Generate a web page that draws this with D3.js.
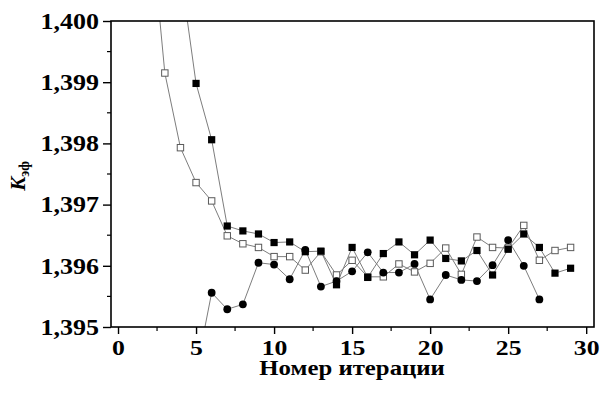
<!DOCTYPE html>
<html>
<head>
<meta charset="utf-8">
<script src="https://cdn.jsdelivr.net/npm/d3@7"></script>
<style>
  html, body { margin: 0; padding: 0; background: #fff; }
  svg { display: block; }
  text { font-family: "Liberation Serif", "Times New Roman", serif; font-weight: bold; fill: #000; }
</style>
</head>
<body>
<svg id="chart" width="612" height="394"></svg>
<script>
// Iteration numbers per series
const itersFilledSq = [4, 5, 6, 7, 8, 9, 10, 11, 12, 13, 14, 15, 16, 17, 18, 19, 20, 21, 22, 23, 24, 25, 26, 27, 28, 29];
const keffFilledSq  = [1.40082, 1.39898, 1.39806, 1.39665, 1.39657, 1.39652, 1.39638, 1.39639, 1.39623, 1.39624,
                       1.39569, 1.39630, 1.39581, 1.39620, 1.39639, 1.39618, 1.39642, 1.39612, 1.39608, 1.39625,
                       1.39585, 1.39627, 1.39652, 1.39630, 1.39588, 1.39596];

const itersOpenSq = [2, 3, 4, 5, 6, 7, 8, 9, 10, 11, 12, 13, 14, 15, 16, 17, 18, 19, 20, 21, 22, 23, 24, 25, 26, 27, 28, 29];
const keffOpenSq  = [1.40185, 1.39915, 1.39793, 1.39736, 1.39706, 1.39649, 1.39636, 1.39630, 1.39615, 1.39615,
                     1.39593, 1.39623, 1.39585, 1.39609, 1.39582, 1.39582, 1.39603, 1.39590, 1.39604, 1.39629,
                     1.39586, 1.39647, 1.39630, 1.39629, 1.39666, 1.39609, 1.39625, 1.39630];

const itersCircle = [5, 6, 7, 8, 9, 10, 11, 12, 13, 14, 15, 16, 17, 18, 19, 20, 21, 22, 23, 24, 25, 26, 27];
const keffCircle  = [1.39426, 1.39556, 1.39529, 1.39537, 1.39605, 1.39602, 1.39578, 1.39626, 1.39566, 1.39575,
                     1.39591, 1.39622, 1.39589, 1.39589, 1.39603, 1.39545, 1.39585, 1.39577, 1.39575, 1.39601,
                     1.39642, 1.39600, 1.39545];

const xTickValues = [0, 5, 10, 15, 20, 25, 30];
const yTickValues = [1.395, 1.396, 1.397, 1.398, 1.399, 1.400];
const xLabel = "Номер итерации";

const svg = d3.select("#chart");
const plotLeft = 111, plotRight = 594, plotTop = 21, plotBottom = 327;
const stretch = 1.13; // horizontal widening of the bold serif lettering

const x = d3.scaleLinear().domain([-0.45, 30.5]).range([plotLeft, plotRight]);
const y = d3.scaleLinear().domain([1.395, 1.400]).range([plotBottom, plotTop]);

const fmt = d => d3.format(".3f")(d).replace(".", ",");

// Clip region for the plotted series
svg.append("clipPath").attr("id", "plotClip")
  .append("rect").attr("x", plotLeft).attr("y", plotTop)
  .attr("width", plotRight - plotLeft).attr("height", plotBottom - plotTop);

const plot = svg.append("g").attr("clip-path", "url(#plotClip)");

const line = d3.line().x(d => x(d[0])).y(d => y(d[1]));
const zip = (a, b) => a.map((v, i) => [v, b[i]]);

const seriesOpen = zip(itersOpenSq, keffOpenSq);
const seriesFilled = zip(itersFilledSq, keffFilledSq);
const seriesCircle = zip(itersCircle, keffCircle);

[seriesOpen, seriesFilled, seriesCircle].forEach(s => {
  plot.append("path").datum(s).attr("d", line)
    .attr("fill", "none").attr("stroke", "#7d7d7d").attr("stroke-width", 1);
});

// Open squares
plot.selectAll(".osq").data(seriesOpen).join("rect")
  .attr("x", d => x(d[0]) - 3.2).attr("y", d => y(d[1]) - 3.2)
  .attr("width", 6.4).attr("height", 6.4)
  .attr("fill", "#fff").attr("stroke", "#5a5a5a").attr("stroke-width", 1);

// Filled squares
plot.selectAll(".fsq").data(seriesFilled).join("rect")
  .attr("x", d => x(d[0]) - 3.6).attr("y", d => y(d[1]) - 3.6)
  .attr("width", 7.2).attr("height", 7.2)
  .attr("fill", "#000");

// Filled circles
plot.selectAll(".fc").data(seriesCircle).join("circle")
  .attr("cx", d => x(d[0])).attr("cy", d => y(d[1])).attr("r", 3.9)
  .attr("fill", "#000");

// Frame
svg.append("rect").attr("x", plotLeft).attr("y", plotTop)
  .attr("width", plotRight - plotLeft).attr("height", plotBottom - plotTop)
  .attr("fill", "none").attr("stroke", "#000").attr("stroke-width", 1.6);

// Bottom axis
const xAxis = svg.append("g").attr("transform", `translate(0,${plotBottom})`);
xAxis.call(d3.axisBottom(x).tickValues(xTickValues).tickSize(7).tickPadding(5).tickFormat(d3.format("d")));
xAxis.select(".domain").remove();
xAxis.selectAll(".tick line").attr("stroke", "#000").attr("stroke-width", 1.4);
xAxis.selectAll(".tick text")
  .attr("font-size", 22).attr("font-family", "Liberation Serif").attr("font-weight", "bold")
  .attr("transform", `scale(${stretch + 0.04},1)`)
  .attr("x", 0);
const xMinor = d3.range(2.5, 30, 5);
xAxis.selectAll(".minor").data(xMinor).join("line")
  .attr("x1", d => x(d)).attr("x2", d => x(d)).attr("y1", 0).attr("y2", 4)
  .attr("stroke", "#000").attr("stroke-width", 1.2);

// Left axis
const yAxis = svg.append("g").attr("transform", `translate(${plotLeft},0)`);
yAxis.call(d3.axisLeft(y).tickValues(yTickValues).tickSize(8).tickPadding(4).tickFormat(fmt));
yAxis.select(".domain").remove();
yAxis.selectAll(".tick line").attr("stroke", "#000").attr("stroke-width", 1.4);
yAxis.selectAll(".tick text")
  .attr("font-size", 23).attr("font-family", "Liberation Serif").attr("font-weight", "bold")
  .attr("x", 0)
  .attr("transform", `translate(-12,0) scale(${stretch},1)`);
const yMinor = d3.range(1.3955, 1.4, 0.001);
yAxis.selectAll(".minor").data(yMinor).join("line")
  .attr("x1", -4).attr("x2", 0).attr("y1", d => y(d)).attr("y2", d => y(d))
  .attr("stroke", "#000").attr("stroke-width", 1.2);

// Axis titles
svg.append("text")
  .attr("transform", `translate(${(x(0) + x(30)) / 2},375) scale(1.24,1)`)
  .attr("text-anchor", "middle").attr("font-size", 20).text(xLabel);

const yt = svg.append("text").attr("transform", "translate(25,176) rotate(-90)")
  .attr("text-anchor", "middle").attr("font-size", 21);
yt.append("tspan").attr("font-style", "italic").text("K");
yt.append("tspan").attr("font-size", 14).attr("dy", 4).text("эф");
</script>
</body>
</html>
